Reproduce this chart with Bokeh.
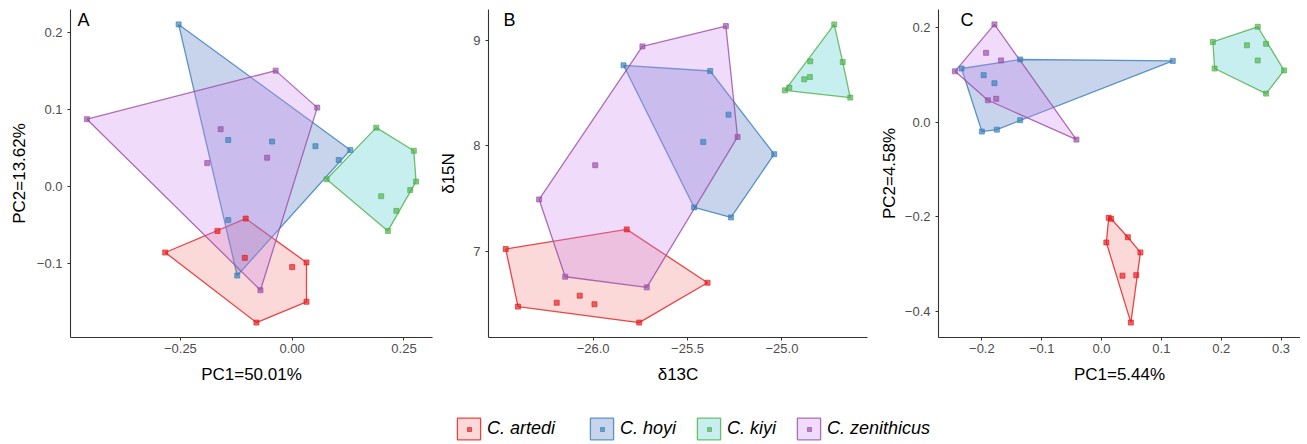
import numpy as np
from bokeh.plotting import figure
from bokeh.models import Range1d, FixedTicker, CustomJSTickFormatter, Label, Legend, LegendItem
from bokeh.core.properties import value
from bokeh.layouts import row, column
from bokeh.embed import file_html
from bokeh.resources import INLINE

species = ["C. artedi", "C. hoyi", "C. kiyi", "C. zenithicus"]
line_colors = ["#E41A1C", "#377EB8", "#4DAF4A", "#984EA3"]
fill_colors = ["#F18080", "#4A6FC0", "#48CACA", "#D187F0"]

# ---- Panel A (PCA) ----
a_artedi_x = [-0.284, -0.104, 0.032, 0.032, -0.080, -0.167, 0.000, -0.106]
a_artedi_y = [-0.086, -0.042, -0.099, -0.150, -0.177, -0.058, -0.105, -0.093]
a_hoyi_x = [-0.254, 0.130, -0.123, -0.143, -0.045, 0.052, 0.104, -0.143]
a_hoyi_y = [0.210, 0.047, -0.116, 0.060, 0.058, 0.052, 0.034, -0.044]
a_kiyi_x = [0.188, 0.272, 0.277, 0.214, 0.077, 0.199, 0.233, 0.264]
a_kiyi_y = [0.076, 0.046, 0.006, -0.058, 0.009, -0.013, -0.032, -0.005]
a_zen_x = [-0.459, -0.037, 0.056, -0.071, -0.160, -0.190, -0.056]
a_zen_y = [0.087, 0.150, 0.102, -0.135, 0.074, 0.030, 0.037]

# ---- Panel B (isotopes) ----
b_artedi_x = [-26.463, -25.822, -25.394, -25.756, -26.398, -26.193, -26.071, -25.993]
b_artedi_y = [7.019, 7.206, 6.699, 6.320, 6.472, 6.509, 6.576, 6.494]
b_hoyi_x = [-25.839, -25.380, -25.041, -25.270, -25.465, -25.283, -25.417]
b_hoyi_y = [8.766, 8.712, 7.921, 7.320, 7.415, 8.297, 8.038]
b_kiyi_x = [-24.984, -24.723, -24.638, -24.961, -24.882, -24.852, -24.850, -24.678]
b_kiyi_y = [8.528, 9.155, 8.459, 8.554, 8.633, 8.655, 8.804, 8.797]
b_zen_x = [-25.739, -25.297, -25.235, -25.716, -26.148, -26.286, -25.989]
b_zen_y = [8.946, 9.139, 8.085, 6.655, 6.756, 7.491, 7.816]

# ---- Panel C (PCA) ----
c_artedi_x = [0.012, 0.044, 0.065, 0.049, 0.008, 0.035, 0.058, 0.016]
c_artedi_y = [-0.202, -0.243, -0.275, -0.423, -0.254, -0.324, -0.323, -0.204]
c_hoyi_x = [-0.234, -0.136, 0.119, -0.136, -0.175, -0.200, -0.197, -0.179]
c_hoyi_y = [0.113, 0.132, 0.129, 0.004, -0.016, -0.020, 0.099, 0.082]
c_kiyi_x = [0.186, 0.261, 0.305, 0.275, 0.189, 0.243, 0.275, 0.261]
c_kiyi_y = [0.169, 0.201, 0.109, 0.060, 0.113, 0.162, 0.165, 0.130]
c_zen_x = [-0.179, -0.245, -0.042, -0.193, -0.168, -0.190, -0.176]
c_zen_y = [0.206, 0.107, -0.037, 0.146, 0.130, 0.046, 0.049]

a_xticks = [-0.25, 0.0, 0.25]
a_yticks = [-0.1, 0.0, 0.1, 0.2]
b_xticks = [-26.0, -25.5, -25.0, -24.5]
b_yticks = [7, 8, 9]
c_xticks = [-0.2, -0.1, 0.0, 0.1, 0.2, 0.3]
c_yticks = [-0.4, -0.2, 0.0, 0.2]

FONT = "Liberation Sans"
FRAME_H = 328


def hull(xs, ys):
    pts = sorted(set(zip(xs, ys)))

    def cross(o, a, b):
        return (a[0] - o[0]) * (b[1] - o[1]) - (a[1] - o[1]) * (b[0] - o[0])

    lower = []
    for pt in pts:
        while len(lower) >= 2 and cross(lower[-2], lower[-1], pt) <= 0:
            lower.pop()
        lower.append(pt)
    upper = []
    for pt in reversed(pts):
        while len(upper) >= 2 and cross(upper[-2], upper[-1], pt) <= 0:
            upper.pop()
        upper.append(pt)
    h = lower[:-1] + upper[:-1]
    return [q[0] for q in h], [q[1] for q in h]


def expand(vals):
    lo, hi = min(vals), max(vals)
    d = (hi - lo) * 0.05
    return Range1d(lo - d, hi + d)


def fmt(d):
    return CustomJSTickFormatter(args=dict(d=d),
                                 code="return tick.toFixed(d).replace('-', '\u2212');")


def make_panel(tag, groups, xlab, ylab, xticks, xd, yticks, yd,
               left, frame_w, right, ylab_standoff, tag_dx):
    allx = [v for g in groups for v in g[0]]
    ally = [v for g in groups for v in g[1]]
    p = figure(frame_width=frame_w, frame_height=FRAME_H,
               x_range=expand(allx), y_range=expand(ally),
               output_backend="svg", toolbar_location=None,
               min_border_left=left, min_border_right=right,
               min_border_top=9, min_border_bottom=55)
    p.grid.visible = False
    p.outline_line_color = None
    p.background_fill_color = "white"
    for i, (gx, gy) in enumerate(groups):
        hx, hy = hull(gx, gy)
        p.patch(hx, hy, fill_color=fill_colors[i], fill_alpha=0.3,
                line_color=line_colors[i], line_alpha=0.8, line_width=1.3)
    for i, (gx, gy) in enumerate(groups):
        p.scatter(gx, gy, marker="square", size=5, color=line_colors[i], alpha=0.65)

    p.xaxis.ticker = FixedTicker(ticks=xticks)
    p.yaxis.ticker = FixedTicker(ticks=yticks)
    p.xaxis.formatter = fmt(xd)
    p.yaxis.formatter = fmt(yd)
    p.xaxis.axis_label = xlab
    p.yaxis.axis_label = ylab
    for ax in (p.xaxis, p.yaxis):
        ax.axis_line_color = "#333333"
        ax.axis_line_width = 1.1
        ax.major_tick_line_color = "#333333"
        ax.major_tick_out = 3
        ax.major_tick_in = 0
        ax.minor_tick_line_color = None
        ax.major_label_text_font = FONT
        ax.major_label_text_font_size = "13px"
        ax.major_label_text_color = "#4D4D4D"
        ax.axis_label_text_font = FONT
        ax.axis_label_text_font_size = "17px"
        ax.axis_label_text_font_style = "normal"
        ax.axis_label_text_color = "black"
    p.xaxis.major_label_standoff = 3
    p.xaxis.axis_label_standoff = 9
    p.yaxis.major_label_standoff = 5
    p.yaxis.axis_label_standoff = ylab_standoff
    p.add_layout(Label(x=tag_dx, y=FRAME_H, x_units="screen", y_units="screen",
                       text=tag, text_font=FONT, text_font_size="18px",
                       text_baseline="top", text_color="black"))
    return p


groups_C = [(c_artedi_x, c_artedi_y), (c_hoyi_x, c_hoyi_y),
            (c_kiyi_x, c_kiyi_y), (c_zen_x, c_zen_y)]

pA = make_panel("A",
                [(a_artedi_x, a_artedi_y), (a_hoyi_x, a_hoyi_y),
                 (a_kiyi_x, a_kiyi_y), (a_zen_x, a_zen_y)],
                "PC1=50.01%", "PC2=13.62%", a_xticks, 2, a_yticks, 1,
                70, 362, 3, 5, 7)
pB = make_panel("B",
                [(b_artedi_x, b_artedi_y), (b_hoyi_x, b_hoyi_y),
                 (b_kiyi_x, b_kiyi_y), (b_zen_x, b_zen_y)],
                "\u03b413C", "\u03b415N", b_xticks, 1, b_yticks, 0,
                53, 379, 3, 12, 15)
pC = make_panel("C", groups_C,
                "PC1=5.44%", "PC2=4.58%", c_xticks, 1, c_yticks, 1,
                68, 362, 0, 3, 22)

# ---- legend strip (key glyphs reuse panel C data, kept out of view) ----
pL = figure(width=1300, height=52, output_backend="svg", toolbar_location=None,
            min_border=0, x_range=Range1d(100, 101), y_range=Range1d(100, 101),
            x_axis_location=None, y_axis_location=None)
pL.grid.visible = False
pL.outline_line_color = None

key_left = [454, 587, 694, 794]   # legend key positions (px)
GW, GH, LY = 29, 27, 2
for i, sp in enumerate(species):
    gx, gy = groups_C[i]
    hx, hy = hull(gx, gy)
    r1 = pL.patch(hx, hy, fill_color=fill_colors[i], fill_alpha=0.3,
                  line_color=line_colors[i], line_alpha=0.8, line_width=1.3)
    r2 = pL.scatter(gx, gy, marker="square", size=5, color=line_colors[i], alpha=0.65)
    box = Legend(items=[LegendItem(label=sp, renderers=[r1])],
                 location=(key_left[i], LY),
                 glyph_width=GW, glyph_height=GH, label_standoff=4,
                 label_height=0, label_width=0,
                 padding=0, margin=0, border_line_color=None, background_fill_alpha=0,
                 label_text_font=FONT, label_text_font_size="18px",
                 label_text_font_style="italic", label_text_color="black")
    dot = Legend(items=[LegendItem(label=value(" "), renderers=[r2])],
                 location=(key_left[i] + GW / 2 - 5, LY + GH / 2 - 5),
                 glyph_width=10, glyph_height=10, label_standoff=0,
                 label_height=0, label_width=0,
                 padding=0, margin=0, border_line_color=None, background_fill_alpha=0,
                 label_text_font_size="1px")
    pL.add_layout(box)
    pL.add_layout(dot)

layout = column(row(pA, pB, pC), pL)
open("out.html", "w").write(file_html(layout, INLINE))
